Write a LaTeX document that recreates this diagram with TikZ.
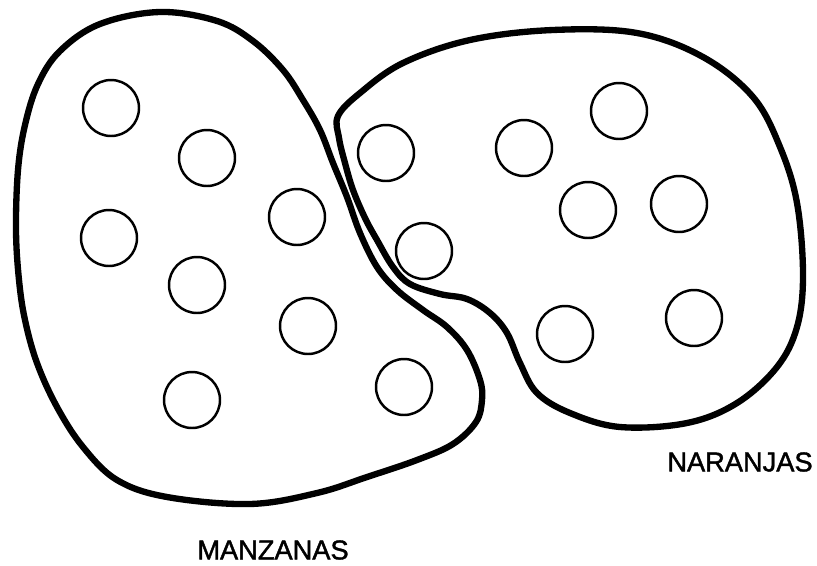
\documentclass[tikz,border=0pt]{standalone}
\usepackage{fontspec}
\setmainfont[FakeBold=1.5]{Liberation Sans}
\usepackage{tikz}
\usetikzlibrary{positioning}

\tikzset{
    fruta/.style={draw, circle, line width=1.4pt, minimum size=1.12cm, inner sep=0pt},
    conjunto/.style={line width=3.6pt, line join=round},
    etiqueta/.style={font=\fontsize{15.5}{18}\selectfont, inner sep=0pt}
}

\begin{document}
\begin{tikzpicture}[x=0.02cm, y=-0.02cm]
    \useasboundingbox (0,0) rectangle (817,565);

    % Manzanas
    \draw[conjunto] plot[smooth cycle, tension=0.6] coordinates {
        (160,12) (217,21) (253,41) (283,70) (303,100) (320,130) (333,163)
        (347,197) (360,233) (377,267) (397,290) (423,310) (447,327) (467,350)
        (480,380) (482,400) (476,422) (453,444) (417,460) (367,477) (317,493)
        (250,504) (167,497) (117,480) (83,447) (57,407) (37,363) (25,320)
        (19,280) (16,230) (18,170) (25,125) (38,84) (60,51) (100,24)};
    \node[fruta] (m1) at (111,108) {};
    \node[fruta] (m2) at (207,158) {};
    \node[fruta] (m3) at (297,217) {};
    \node[fruta] (m4) at (109,238) {};
    \node[fruta] (m5) at (197,285) {};
    \node[fruta] (m6) at (308,326) {};
    \node[fruta] (m7) at (192,400) {};
    \node[fruta] (m8) at (404,387) {};
    \node[etiqueta] (manzanas) at (273,550) {MANZANAS};

    % Naranjas
    \draw[conjunto] plot[smooth cycle, tension=0.6] coordinates {
        (338,116) (360,93) (403,63) (470,40) (553,30) (637,33) (703,57)
        (753,97) (780,147) (797,203) (803,275) (797,327) (777,367) (737,403)
        (687,423) (620,427) (570,413) (537,393) (520,363) (507,333) (490,313)
        (467,299) (440,294) (410,284) (393,267) (377,240) (365,218) (353,190)
        (345,163) (339,138)};
    \node[fruta] (n1) at (386,153) {};
    \node[fruta] (n2) at (424,251) {};
    \node[fruta] (n3) at (524,148) {};
    \node[fruta] (n4) at (619,111) {};
    \node[fruta] (n5) at (588,210) {};
    \node[fruta] (n6) at (679,204) {};
    \node[fruta] (n7) at (565,334) {};
    \node[fruta] (n8) at (694,318) {};
    \node[etiqueta] (naranjas) at (740,462) {NARANJAS};
\end{tikzpicture}
\end{document}
